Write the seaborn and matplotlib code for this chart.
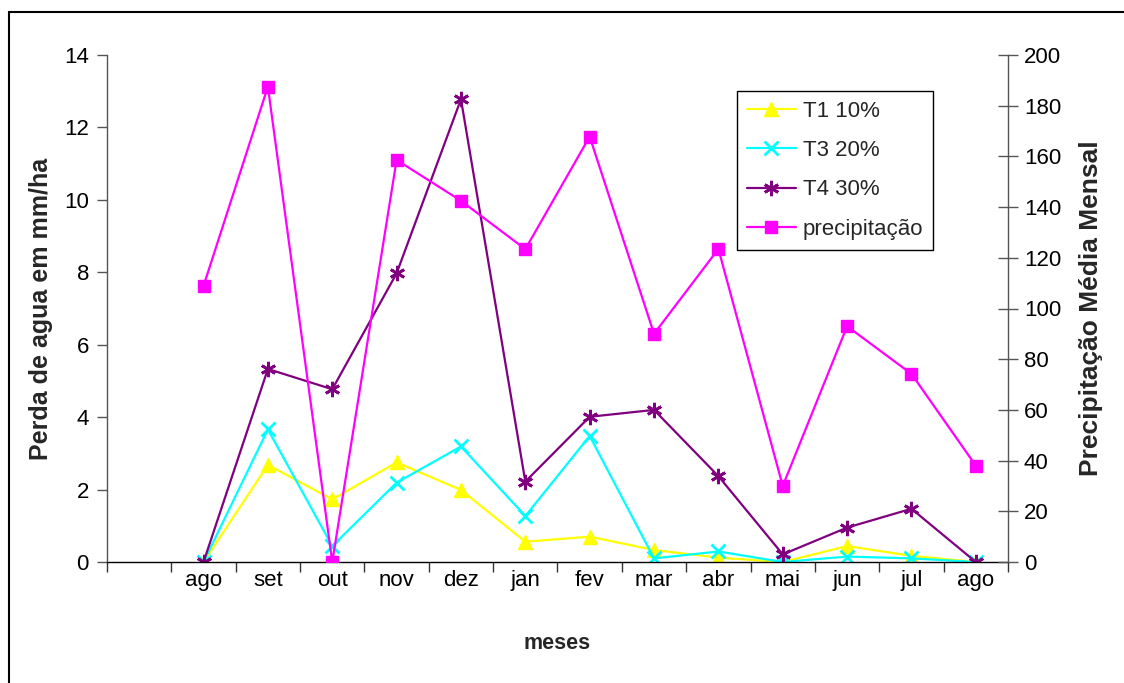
import matplotlib
matplotlib.use("Agg")
import matplotlib.pyplot as plt
import seaborn as sns
from matplotlib.patches import Rectangle

# ---- data ----
months = ["", "ago", "set", "out", "nov", "dez", "jan", "fev", "mar", "abr", "mai", "jun", "jul", "ago"]
t1_10 = [0.0, 2.68, 1.73, 2.75, 1.99, 0.56, 0.70, 0.33, 0.12, 0.0, 0.44, 0.17, 0.0]
t3_20 = [0.0, 3.66, 0.44, 2.19, 3.19, 1.27, 3.48, 0.10, 0.29, 0.0, 0.15, 0.10, 0.0]
t4_30 = [0.0, 5.33, 4.77, 7.97, 12.78, 2.22, 4.01, 4.20, 2.37, 0.21, 0.95, 1.47, 0.0]
precip = [108.9, 187.5, 0.0, 158.6, 142.5, 123.4, 167.8, 90.0, 123.5, 30.0, 93.0, 74.2, 38.0]
left_ticks = [0, 2, 4, 6, 8, 10, 12, 14]
right_ticks = [0, 20, 40, 60, 80, 100, 120, 140, 160, 180, 200]

sns.set_theme(style="white")
plt.rcParams['font.family'] = ['Liberation Sans', 'DejaVu Sans']

W, H = 1124, 683
fig = plt.figure(figsize=(W / 100, H / 100), dpi=100)
left, right, top, bottom = 107, 1008, 55, 562
ax = fig.add_axes([left / W, 1 - bottom / H, (right - left) / W, (bottom - top) / H])
ax2 = ax.twinx()

xpos = list(range(1, len(months)))
lw = 1.6

sns.lineplot(x=xpos, y=t1_10, ax=ax, color="#FFFF00", marker="^", markersize=10,
             markeredgecolor="#FFFF00", markeredgewidth=1, linewidth=lw, label="T1 10%", legend=False)
sns.lineplot(x=xpos, y=t3_20, ax=ax, color="#00FFFF", marker="x", markersize=10,
             markeredgecolor="#00FFFF", markeredgewidth=2, linewidth=lw, label="T3 20%", legend=False)
sns.lineplot(x=xpos, y=t4_30, ax=ax, color="#800080", marker=(6, 2, 0), markersize=11,
             markeredgecolor="#800080", markeredgewidth=2, linewidth=lw, label="T4 30%", legend=False)
sns.lineplot(x=xpos, y=precip, ax=ax2, color="#FF00FF", marker="s", markersize=9,
             markeredgecolor="#FF00FF", markeredgewidth=1, linewidth=lw, label="precipitação", legend=False)

ax.set_xlim(-0.5, len(months) - 0.5)
ax.set_ylim(0, 14)
ax2.set_ylim(0, 200)
ax.set_yticks(left_ticks)
ax2.set_yticks(right_ticks)
ax.set_xticks(range(len(months)))
ax.set_xticklabels(months)
ax.set_xticks([i - 0.5 for i in range(len(months) + 1)], minor=True)

fs = 16
ax.tick_params(axis="x", which="major", length=0, pad=6, labelsize=fs, colors="black")
ax.tick_params(axis="x", which="minor", length=7, width=1, direction="out", color="#333333", bottom=True)
ax.tick_params(axis="y", which="major", length=7, width=1, direction="out", pad=6,
               labelsize=fs, color="#555555", labelcolor="black", left=True)
ax2.tick_params(axis="y", which="major", length=15, width=1, direction="inout", pad=4,
                labelsize=fs, color="#555555", labelcolor="black", right=True)

for a in (ax, ax2):
    a.grid(False)
    a.spines["top"].set_visible(False)
    a.set_facecolor("none")
ax2.spines["left"].set_visible(False)
ax2.spines["bottom"].set_visible(False)
ax.spines["right"].set_visible(False)
ax.spines["left"].set_color("#555555")
ax.spines["left"].set_linewidth(1)
ax2.spines["right"].set_color("#555555")
ax2.spines["right"].set_linewidth(1)
ax.spines["bottom"].set_color("black")
ax.spines["bottom"].set_linewidth(1)

ax.set_xlabel("meses", fontsize=15.5, fontweight="bold")
ax.xaxis.set_label_coords(0.5, (bottom - 633) / (bottom - top))
ax.set_ylabel("Perda de agua em mm/ha", fontsize=18, fontweight="bold")
ax.yaxis.set_label_coords((53 - left) / (right - left), 0.5)
ax2.set_ylabel("Precipitação Média Mensal", fontsize=19, fontweight="bold", rotation=90)
ax2.yaxis.set_label_coords((1079 - left) / (right - left), 0.5)

h1, l1 = ax.get_legend_handles_labels()
h2, l2 = ax2.get_legend_handles_labels()
leg = fig.legend(h1 + h2, l1 + l2, loc="upper left", bbox_to_anchor=(737 / W, 1 - 91 / H),
                 borderaxespad=0, fontsize=fs, frameon=True, fancybox=False,
                 handlelength=2.2, handletextpad=0.3, labelspacing=0.82, borderpad=0.45)
leg.get_frame().set_edgecolor("black")
leg.get_frame().set_linewidth(1)
leg.get_frame().set_facecolor("white")
leg.get_frame().set_alpha(1)

fig.patches.append(Rectangle((9 / W, -0.1), 1.2, 1.1 - 12 / H, transform=fig.transFigure,
                             fill=False, edgecolor="black", linewidth=1.5, zorder=0))

fig.savefig("out.png", dpi=100, facecolor="white")
